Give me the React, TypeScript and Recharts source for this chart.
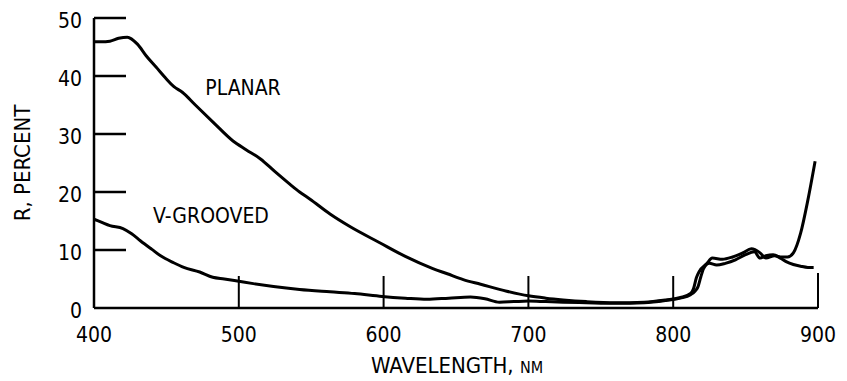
import { LineChart, Line, XAxis, YAxis } from 'recharts'

const xTicks = [400, 500, 600, 700, 800, 900]
const yTicks = [0, 10, 20, 30, 40, 50]

const planarNm = [
  400, 405, 411, 417, 423, 430, 436, 443, 450, 455, 461, 470, 482, 496, 505, 515, 525, 535, 542,
  549, 563, 577, 597, 615, 634, 644, 655, 667, 685, 700, 712, 724, 740, 760, 780, 795, 805, 812,
  814, 816, 818, 823, 827, 834, 841, 848, 854, 860, 864, 870, 875, 879, 883, 888, 893, 898,
]
const planarR = [
  45.9, 45.9, 46.0, 46.5, 46.7, 45.5, 43.5, 41.5, 39.5, 38.2, 37.2, 35.0, 32.1, 28.8, 27.3, 25.7,
  23.5, 21.4, 20.0, 18.8, 16.2, 14.0, 11.3, 8.9, 6.8, 5.9, 4.9, 4.1, 2.9, 2.1, 1.7, 1.4, 1.1, 0.9,
  1.0, 1.4, 1.8, 2.5, 3.3, 5.2, 6.3, 7.6, 8.6, 8.4, 8.8, 9.5, 10.2, 9.5, 8.6, 9.0, 8.8, 8.8, 9.5,
  12.9, 18.6, 25.3,
]

const grooveNm = [
  400, 405, 411, 420, 426, 432, 440, 446, 455, 462, 473, 482, 490, 500, 510, 524, 542, 563, 580,
  599, 615, 630, 645, 660, 670, 680, 690, 700, 712, 724, 740, 760, 780, 795, 805, 812, 815, 817,
  819, 821, 825, 830, 836, 843, 850, 856, 860, 864, 869, 874, 878, 883, 888, 893, 897,
]
const grooveR = [
  15.3, 14.8, 14.2, 13.7, 12.8, 11.6, 10.1, 9.0, 7.8, 7.0, 6.2, 5.3, 5.0, 4.6, 4.2, 3.7, 3.2, 2.8,
  2.5, 2.0, 1.7, 1.5, 1.7, 1.9, 1.6, 1.0, 1.1, 1.2, 1.1, 1.0, 0.9, 0.8, 0.9, 1.3, 1.7, 2.3, 2.9,
  3.6, 5.3, 6.8, 7.7, 7.4, 7.7, 8.3, 9.2, 9.7, 8.6, 9.0, 9.2, 8.6, 8.0, 7.5, 7.2, 7.0, 7.0,
]

const planarData = planarNm.map((nm, i) => ({ nm, r: planarR[i] }))
const grooveData = grooveNm.map((nm, i) => ({ nm, r: grooveR[i] }))

const FONT = '"DejaVu Sans Condensed", "DejaVu Sans", sans-serif'

function YTick(props: any) {
  const { x, y, payload } = props
  return (
    <g>
      {payload.value !== 0 && (
        <line x1={x} x2={x + 32} y1={y} y2={y} stroke="#000" strokeWidth={2.5} />
      )}
      <text x={x - 12} y={y + 9.5} textAnchor="end" fontSize={21} fontFamily={FONT} fill="#000">
        {payload.value}
      </text>
    </g>
  )
}

function XTick(props: any) {
  const { x, y, payload } = props
  const len = payload.value === 900 ? 35 : 32
  return (
    <g>
      {payload.value !== 400 && (
        <line x1={x} x2={x} y1={y} y2={y - len} stroke="#000" strokeWidth={2} />
      )}
      <text x={x} y={y + 34} textAnchor="middle" fontSize={21} fontFamily={FONT} fill="#000">
        {payload.value}
      </text>
    </g>
  )
}

const label = (left: number, top: number, rotate = 0): React.CSSProperties => ({
  position: 'absolute',
  left,
  top,
  transform: `translate(-50%, -50%) rotate(${rotate}deg)`,
  fontFamily: FONT,
  fontSize: 21,
  lineHeight: '21px',
  whiteSpace: 'nowrap',
  color: '#000',
})

export default function App() {
  return (
    <div style={{ position: 'fixed', left: 0, top: 0, width: 847, height: 381, background: '#fff' }}>
      <LineChart
        width={847}
        height={381}
        margin={{ top: 18, right: 29, left: 34, bottom: 43 }}
      >
        <XAxis
          dataKey="nm"
          type="number"
          domain={[400, 900]}
          ticks={xTicks}
          tick={<XTick />}
          tickSize={0}
          tickMargin={0}
          height={30}
          axisLine={{ stroke: '#000', strokeWidth: 2.5 }}
          tickLine={false}
        />
        <YAxis
          type="number"
          domain={[0, 50]}
          ticks={yTicks}
          tick={<YTick />}
          tickSize={0}
          tickMargin={0}
          width={60}
          axisLine={{ stroke: '#000', strokeWidth: 2.5 }}
          tickLine={false}
        />
        <Line
          data={planarData}
          dataKey="r"
          type="monotone"
          stroke="#000"
          strokeWidth={3}
          dot={false}
          isAnimationActive={false}
        />
        <Line
          data={grooveData}
          dataKey="r"
          type="monotone"
          stroke="#000"
          strokeWidth={3}
          dot={false}
          isAnimationActive={false}
        />
      </LineChart>
      <div style={label(243, 88)}>PLANAR</div>
      <div style={label(211, 216)}>V-GROOVED</div>
      <div style={{ ...label(457, 366), fontSize: 22 }}>
        WAVELENGTH, <span style={{ fontSize: 16 }}>NM</span>
      </div>
      <div style={{ ...label(22, 163, -90), fontSize: 22 }}>R, PERCENT</div>
    </div>
  )
}
